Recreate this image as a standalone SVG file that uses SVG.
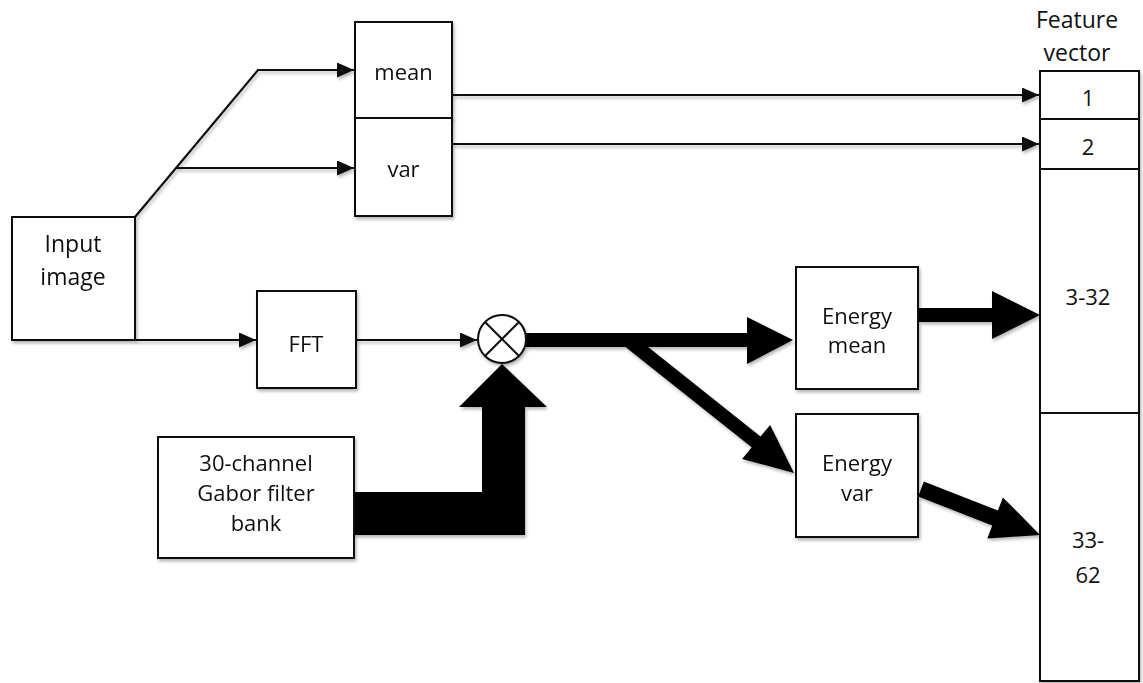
<svg xmlns="http://www.w3.org/2000/svg" width="1143" height="683" viewBox="0 0 1143 683">
  <defs>
    <style>
      .box { fill: #ffffff; stroke: #111111; stroke-width: 2; }
      .lbl { font-family: "Open Sans", "Liberation Sans", sans-serif; font-size: 22px; fill: #111111; text-anchor: middle; }
      .big { font-size: 23px; }
      .wire { fill: none; stroke: #111111; stroke-width: 2.2; }
      .bus { fill: #000000; }
    </style>
    <marker id="tip" markerUnits="userSpaceOnUse" markerWidth="17" markerHeight="15" refX="17" refY="7.5" orient="auto">
      <path d="M0,0 L17,7.5 L0,15 Z" fill="#111111"/>
    </marker>
    <filter id="shade" x="-10%" y="-10%" width="130%" height="130%">
      <feDropShadow dx="1.5" dy="2.5" stdDeviation="1.8" flood-color="#000000" flood-opacity="0.28"/>
    </filter>
  </defs>

  <rect width="1143" height="683" fill="#ffffff"/>

  <!-- connectors -->
  <g id="connectors">
    <g filter="url(#shade)">
      <polyline class="wire" points="135,217 258,70 354,70" marker-end="url(#tip)"/>
      <line class="wire" x1="176" y1="168" x2="354" y2="168" marker-end="url(#tip)"/>
      <line class="wire" x1="135" y1="340" x2="256" y2="340" marker-end="url(#tip)"/>
      <line class="wire" x1="356" y1="340" x2="477" y2="340" marker-end="url(#tip)"/>
      <line class="wire" x1="452" y1="95" x2="1039" y2="95" marker-end="url(#tip)"/>
      <line class="wire" x1="452" y1="144" x2="1039" y2="144" marker-end="url(#tip)"/>

      <!-- filter bank output into the multiplier -->
      <polygon class="bus" points="354,492 482,492 482,407 459,407 502,364 547,407 525,407 525,535 354,535"/>
      <!-- multiplier output to energy mean -->
      <polygon class="bus" points="525,333 747,333 747,317 793,340 747,364 747,347 525,347"/>
      <!-- branch to energy var -->
      <polygon class="bus" points="623.6,345.4 632.4,334.6 760.5,436.5 770.1,424.9 794,473 742.1,458.9 751.7,447.3"/>
      <!-- energy mean to features 3-32 -->
      <polygon class="bus" points="919,308 992,308 992,291 1040,315 992,339 992,322 919,322"/>
      <!-- energy var to features 33-62 -->
      <polygon class="bus" points="923.8,481.5 997.9,510.5 1002.9,497.4 1040,535 987.3,538.6 992.3,525.5 918.2,496.5"/>
    </g>
  </g>

  <g id="input-image" filter="url(#shade)">
    <rect class="box" x="12" y="217" width="123" height="123"/>
    <text class="lbl big" x="73" y="252">Input</text>
    <text class="lbl big" x="73" y="285">image</text>
  </g>

  <g id="mean" filter="url(#shade)">
    <rect class="box" x="355" y="22" width="97" height="96"/>
    <text class="lbl" x="403.5" y="80">mean</text>
  </g>

  <g id="var" filter="url(#shade)">
    <rect class="box" x="355" y="118" width="97" height="98"/>
    <text class="lbl" x="403.5" y="177">var</text>
  </g>

  <g id="fft" filter="url(#shade)">
    <rect class="box" x="257" y="291" width="99" height="97"/>
    <text class="lbl" x="306" y="352">FFT</text>
  </g>

  <g id="multiplier" filter="url(#shade)">
    <circle class="box" cx="502" cy="339" r="24"/>
    <line class="wire" x1="485" y1="322" x2="519" y2="356"/>
    <line class="wire" x1="519" y1="322" x2="485" y2="356"/>
  </g>

  <g id="gabor-bank" filter="url(#shade)">
    <rect class="box" x="158" y="437" width="196" height="121"/>
    <text class="lbl" x="256" y="471">30-channel</text>
    <text class="lbl" x="256" y="501">Gabor filter</text>
    <text class="lbl" x="256" y="531">bank</text>
  </g>

  <g id="energy-mean" filter="url(#shade)">
    <rect class="box" x="796" y="267" width="122" height="122"/>
    <text class="lbl" x="857" y="324">Energy</text>
    <text class="lbl" x="857" y="353">mean</text>
  </g>

  <g id="energy-var" filter="url(#shade)">
    <rect class="box" x="796" y="414" width="122" height="123"/>
    <text class="lbl" x="857" y="471">Energy</text>
    <text class="lbl" x="857" y="501">var</text>
  </g>

  <g id="feature-vector">
    <text class="lbl big" x="1077" y="28">Feature</text>
    <text class="lbl big" x="1077" y="61">vector</text>
    <g filter="url(#shade)">
      <rect class="box" x="1040" y="71" width="99" height="48"/>
      <rect class="box" x="1040" y="119" width="99" height="50"/>
      <rect class="box" x="1040" y="169" width="99" height="244"/>
      <rect class="box" x="1040" y="413" width="99" height="268"/>
    </g>
    <text class="lbl" x="1088" y="106">1</text>
    <text class="lbl" x="1088" y="155">2</text>
    <text class="lbl" x="1088" y="305">3-32</text>
    <text class="lbl" x="1088" y="548">33-</text>
    <text class="lbl" x="1088" y="583">62</text>
  </g>
</svg>
